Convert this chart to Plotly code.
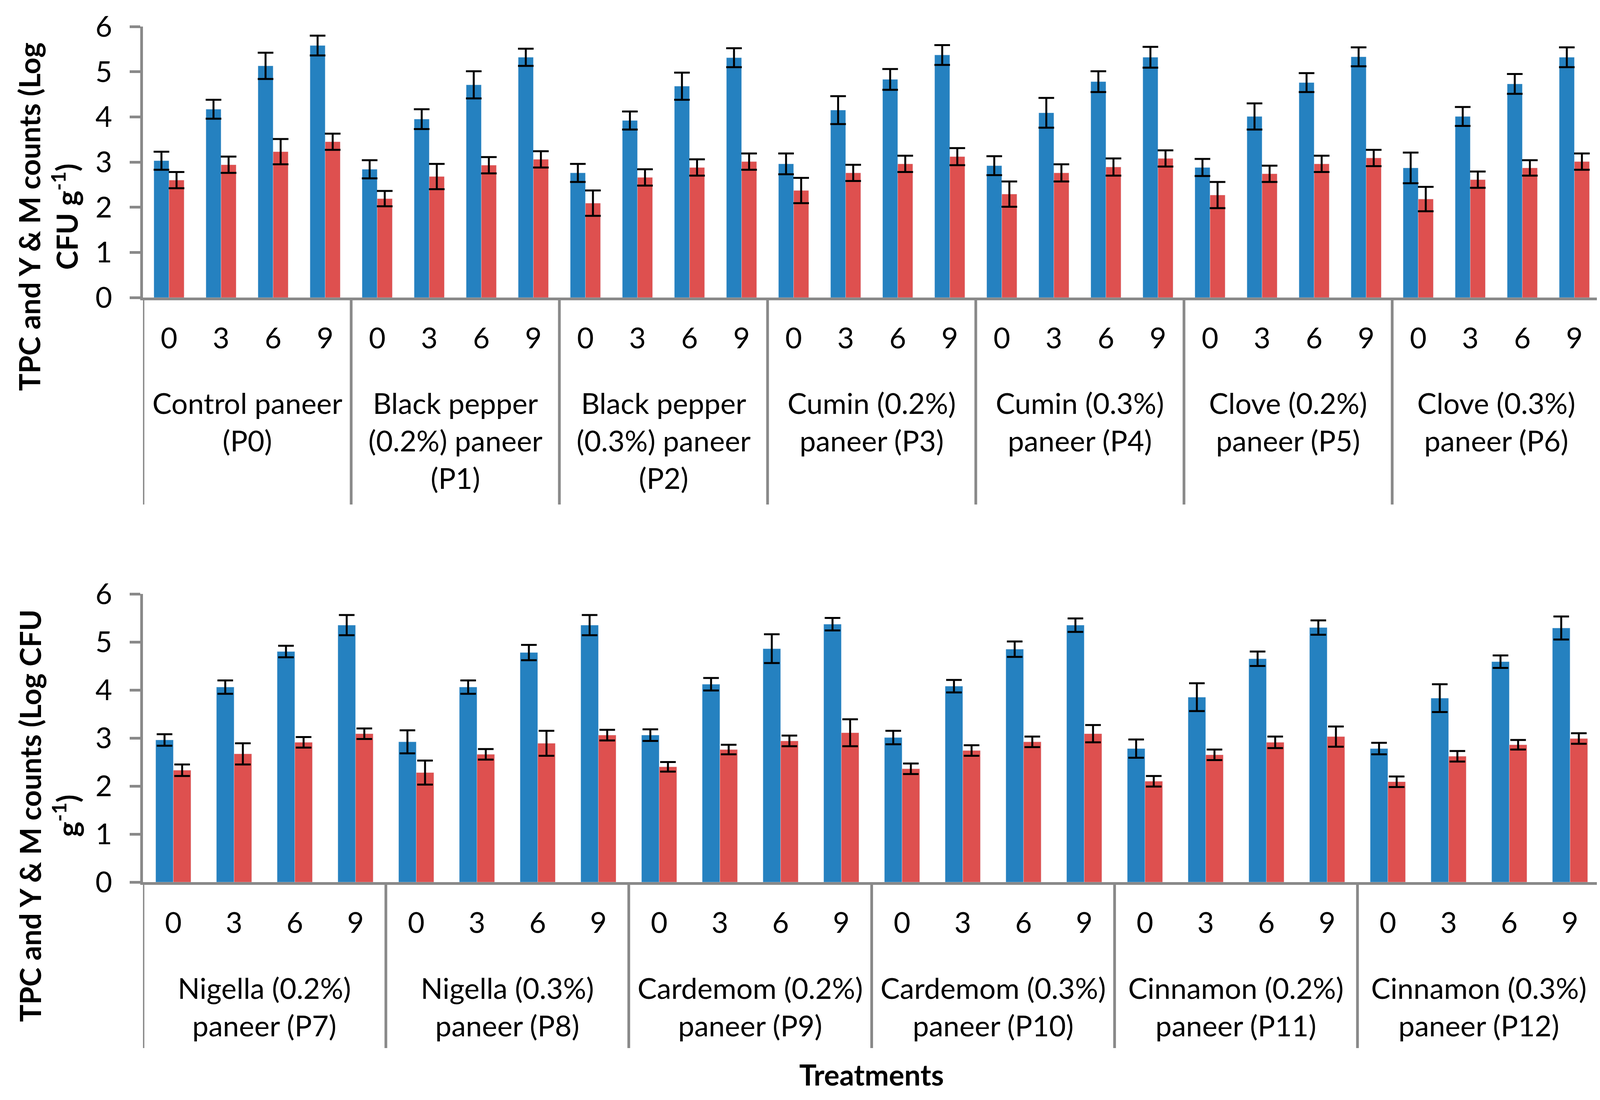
import plotly.graph_objects as go

W, H = 4144, 2817
OFF = 8  # default page body margin

days = ["0", "3", "6", "9"]

groups_top = ["Control paneer<br>(P0)", "Black pepper<br>(0.2%) paneer<br>(P1)",
              "Black pepper<br>(0.3%) paneer<br>(P2)", "Cumin (0.2%)<br>paneer (P3)",
              "Cumin (0.3%)<br>paneer (P4)", "Clove (0.2%)<br>paneer (P5)",
              "Clove (0.3%)<br>paneer (P6)"]
groups_bot = ["Nigella (0.2%)<br>paneer (P7)", "Nigella (0.3%)<br>paneer (P8)",
              "Cardemom (0.2%)<br>paneer (P9)", "Cardemom (0.3%)<br>paneer (P10)",
              "Cinnamon (0.2%)<br>paneer (P11)", "Cinnamon (0.3%)<br>paneer (P12)"]

tpc_top = [3.03, 4.17, 5.13, 5.58, 2.84, 3.95, 4.71, 5.32, 2.76, 3.92, 4.68, 5.31,
           2.96, 4.15, 4.83, 5.37, 2.92, 4.09, 4.78, 5.32, 2.88, 4.01, 4.76, 5.33,
           2.87, 4.01, 4.73, 5.32]
tpc_top_err = [0.20, 0.21, 0.29, 0.22, 0.20, 0.22, 0.30, 0.19, 0.20, 0.20, 0.30, 0.21,
               0.23, 0.31, 0.23, 0.22, 0.21, 0.33, 0.23, 0.23, 0.19, 0.29, 0.21, 0.21,
               0.34, 0.21, 0.22, 0.22]
ym_top = [2.60, 2.94, 3.23, 3.45, 2.19, 2.68, 2.93, 3.06, 2.09, 2.66, 2.88, 3.01,
          2.37, 2.76, 2.96, 3.12, 2.29, 2.76, 2.89, 3.08, 2.27, 2.74, 2.96, 3.09,
          2.18, 2.61, 2.87, 3.01]
ym_top_err = [0.18, 0.18, 0.28, 0.18, 0.17, 0.28, 0.18, 0.18, 0.28, 0.18, 0.18, 0.18,
              0.28, 0.18, 0.18, 0.19, 0.28, 0.19, 0.19, 0.18, 0.29, 0.18, 0.18, 0.18,
              0.27, 0.18, 0.17, 0.18]

tpc_bot = [2.96, 4.06, 4.80, 5.35, 2.92, 4.06, 4.78, 5.35, 3.06, 4.12, 4.86, 5.37,
           3.01, 4.08, 4.85, 5.35, 2.78, 3.85, 4.65, 5.30, 2.78, 3.83, 4.59, 5.29]
tpc_bot_err = [0.12, 0.14, 0.12, 0.21, 0.24, 0.14, 0.16, 0.21, 0.12, 0.13, 0.30, 0.13,
               0.14, 0.13, 0.16, 0.14, 0.19, 0.29, 0.15, 0.15, 0.12, 0.29, 0.13, 0.24]
ym_bot = [2.33, 2.67, 2.91, 3.09, 2.28, 2.66, 2.89, 3.06, 2.40, 2.76, 2.94, 3.11,
          2.36, 2.74, 2.92, 3.09, 2.10, 2.65, 2.91, 3.03, 2.09, 2.62, 2.86, 2.99]
ym_bot_err = [0.12, 0.22, 0.11, 0.11, 0.25, 0.11, 0.26, 0.11, 0.10, 0.10, 0.11, 0.28,
              0.11, 0.11, 0.11, 0.18, 0.11, 0.11, 0.12, 0.21, 0.11, 0.11, 0.10, 0.11]

BLUE = "#2581C0"
RED = "#DE504F"
GRAY = "#898989"
FONT = "Lato"
FS = 74


def px_x(p):
    return (p - OFF) / W


def px_y(p):
    return 1 - (p - OFF) / H


fig = go.Figure()

n_top = len(tpc_top)
n_bot = len(tpc_bot)
x_top = list(range(n_top))
x_bot = list(range(n_bot))

err_style = dict(type="data", color="black", thickness=5, width=20, visible=True)

fig.add_trace(go.Bar(x=x_top, y=tpc_top, name="TPC", marker_color=BLUE,
                     error_y=dict(array=tpc_top_err, **err_style), xaxis="x", yaxis="y"))
fig.add_trace(go.Bar(x=x_top, y=ym_top, name="Y & M", marker_color=RED,
                     error_y=dict(array=ym_top_err, **err_style), xaxis="x", yaxis="y"))
fig.add_trace(go.Bar(x=x_bot, y=tpc_bot, name="TPC", marker_color=BLUE,
                     error_y=dict(array=tpc_bot_err, **err_style), xaxis="x2", yaxis="y2"))
fig.add_trace(go.Bar(x=x_bot, y=ym_bot, name="Y & M", marker_color=RED,
                     error_y=dict(array=ym_bot_err, **err_style), xaxis="x2", yaxis="y2"))

x_dom = [px_x(366), px_x(4097)]
top_axis_px, top_top_px = 762, 68
bot_axis_px, bot_top_px = 2259, 1521

common_x = dict(showgrid=False, zeroline=False, showline=True, linecolor=GRAY, linewidth=7,
                ticks="", tickfont=dict(family=FONT, size=FS, color="black"),
                ticklabelstandoff=34, automargin=False, fixedrange=True)
common_y = dict(range=[0, 6], tickvals=[0, 1, 2, 3, 4, 5, 6], showgrid=False, zeroline=False,
                showline=True, linecolor=GRAY, linewidth=7, ticks="outside", ticklen=27,
                tickwidth=7, tickcolor=GRAY, tickfont=dict(family=FONT, size=FS, color="black"),
                ticklabelstandoff=30, automargin=False, fixedrange=True)

fig.update_layout(
    width=W, height=H,
    margin=dict(l=0, r=0, t=0, b=0, autoexpand=False),
    paper_bgcolor="white", plot_bgcolor="white",
    showlegend=False,
    barmode="group", bargap=0.42, bargroupgap=0,
    font=dict(family=FONT, size=FS, color="black"),
    xaxis=dict(domain=x_dom, anchor="y", range=[-0.5, n_top - 0.5],
               tickvals=x_top, ticktext=days * len(groups_top), **common_x),
    yaxis=dict(domain=[px_y(top_axis_px), px_y(top_top_px)], anchor="x", **common_y),
    xaxis2=dict(domain=x_dom, anchor="y2", range=[-0.5, n_bot - 0.5],
                tickvals=x_bot, ticktext=days * len(groups_bot), **common_x),
    yaxis2=dict(domain=[px_y(bot_axis_px), px_y(bot_top_px)], anchor="x2", **common_y),
)

shapes = []
annotations = []

for i in range(len(groups_top) + 1):
    shapes.append(dict(type="line", xref="x", yref="paper", x0=i * 4 - 0.5, x1=i * 4 - 0.5,
                       y0=px_y(1292), y1=px_y(top_axis_px), line=dict(color=GRAY, width=7)))
for i, g in enumerate(groups_top):
    annotations.append(dict(text=g, xref="x", yref="paper", x=i * 4 + 1.5, y=px_y(985),
                            xanchor="center", yanchor="top", showarrow=False,
                            font=dict(family=FONT, size=FS, color="black")))
for i in range(len(groups_bot) + 1):
    shapes.append(dict(type="line", xref="x2", yref="paper", x0=i * 4 - 0.5, x1=i * 4 - 0.5,
                       y0=px_y(2684), y1=px_y(bot_axis_px), line=dict(color=GRAY, width=7)))
for i, g in enumerate(groups_bot):
    annotations.append(dict(text=g, xref="x2", yref="paper", x=i * 4 + 1.5, y=px_y(2483),
                            xanchor="center", yanchor="top", showarrow=False,
                            font=dict(family=FONT, size=FS, color="black")))

annotations.append(dict(text="<b>TPC and Y & M counts (Log<br>CFU g<sup>-1</sup>)</b>",
                        xref="paper", yref="paper", x=px_x(122), y=px_y(555),
                        xanchor="center", yanchor="middle", textangle=-90, showarrow=False,
                        font=dict(family=FONT, size=FS, color="black")))
annotations.append(dict(text="<b>TPC and Y & M counts (Log CFU<br>g<sup>-1</sup>)</b>",
                        xref="paper", yref="paper", x=px_x(124), y=px_y(2089),
                        xanchor="center", yanchor="middle", textangle=-90, showarrow=False,
                        font=dict(family=FONT, size=FS, color="black")))
annotations.append(dict(text="<b>Treatments</b>", xref="paper", yref="paper",
                        x=px_x(2231), y=px_y(2751), xanchor="center", yanchor="middle",
                        showarrow=False, font=dict(family=FONT, size=FS, color="black")))

fig.update_layout(shapes=shapes, annotations=annotations)

fig.write_html("out.html")
